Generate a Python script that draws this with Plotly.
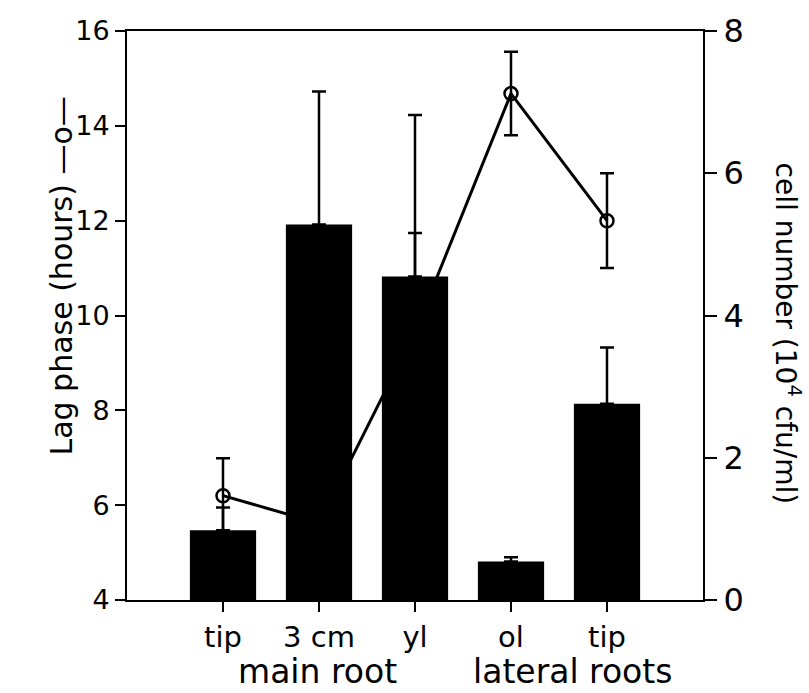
import plotly.graph_objects as go

# ---- data ----
categories = ["tip", "3 cm", "yl", "ol", "tip"]
positions = [1, 2, 3, 4, 5]
cell_number = [0.98, 5.28, 4.55, 0.54, 2.76]      # right axis (10^4 cfu/ml)
cell_err = [0.32, 1.87, 2.27, 0.06, 0.79]
lag_phase = [6.2, 5.62, 9.66, 14.68, 12.0]       # left axis (hours)
lag_err = [0.79, 0.6, 2.08, 0.88, 1.0]
group_labels = ["main root", "lateral roots"]
group_pos = [1.98, 4.64]
left_ticks = [4, 6, 8, 10, 12, 14, 16]
right_ticks = [0, 2, 4, 6, 8]

FONT = "DejaVu Sans"

fig = go.Figure()

fig.add_trace(go.Scatter(
    x=positions, y=lag_phase, mode="lines+markers",
    line=dict(color="black", width=3),
    marker=dict(symbol="circle-open", size=13, color="black", line=dict(width=2.5, color="black")),
    error_y=dict(type="data", array=lag_err, symmetric=True, color="black", thickness=2.5, width=7),
    yaxis="y", showlegend=False,
))

fig.add_trace(go.Bar(
    x=positions, y=cell_number, width=0.69,
    marker=dict(color="black", line=dict(width=0)),
    error_y=dict(type="data", array=cell_err, arrayminus=[0] * len(cell_err), symmetric=False,
                 color="black", thickness=2.5, width=7),
    yaxis="y2", showlegend=False,
))

fig.update_layout(
    width=809, height=693,
    margin=dict(l=127, r=106, t=23, b=93),
    paper_bgcolor="white", plot_bgcolor="white",
    font=dict(family=FONT, color="black"),
    xaxis=dict(range=[0, 6], tickvals=positions, ticktext=categories,
               ticks="outside", ticklen=10, tickwidth=2, tickcolor="black",
               showline=True, linecolor="black", linewidth=2, mirror=True,
               showgrid=False, zeroline=False, tickfont=dict(size=29, family=FONT)),
    yaxis=dict(range=[4, 16], tickvals=left_ticks, ticks="outside", ticklen=10, tickwidth=2,
               tickcolor="black", showline=True, linecolor="black", linewidth=2,
               showgrid=False, zeroline=False, tickfont=dict(size=27, family=FONT)),
    yaxis2=dict(range=[0, 8], tickvals=right_ticks, overlaying="y", side="right",
                ticks="outside", ticklen=12, tickwidth=2, tickcolor="black",
                showline=True, linecolor="black", linewidth=2,
                showgrid=False, zeroline=False, tickfont=dict(size=32, family=FONT)),
)

# axis titles
fig.add_annotation(text="Lag phase (hours) —o—", xref="paper", yref="paper",
                   x=-0.113, y=0.57, textangle=-90, showarrow=False,
                   font=dict(size=30, family=FONT), xanchor="center", yanchor="middle")
fig.add_annotation(text="cell number (10<sup>4</sup> cfu/ml)", xref="paper", yref="paper",
                   x=1.146, y=0.468, textangle=90, showarrow=False,
                   font=dict(size=28, family=FONT), xanchor="center", yanchor="middle")

# group labels
for lbl, gp in zip(group_labels, group_pos):
    fig.add_annotation(text=lbl, x=gp, xref="x", y=-0.125, yref="paper",
                       showarrow=False, font=dict(size=33, family=FONT),
                       xanchor="center", yanchor="middle")

fig.write_html("out.html")
